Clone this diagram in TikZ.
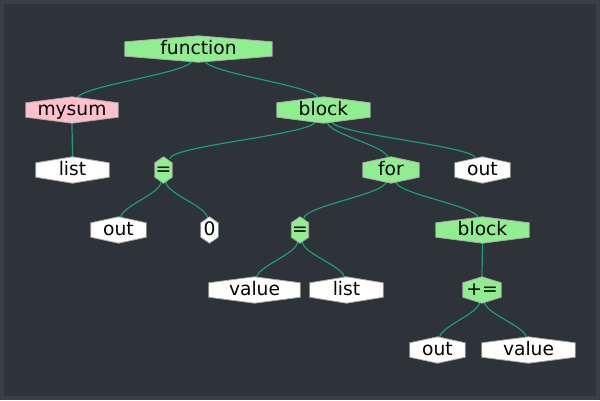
\documentclass[tikz,border=0pt]{standalone}
\usepackage{fontspec}
\setmainfont{DejaVu Sans}
\usetikzlibrary{backgrounds,calc}
\definecolor{bgouter}{HTML}{3A3E48}
\definecolor{bginner}{HTML}{2E3239}
\definecolor{edgecol}{HTML}{1A9E7A}
\definecolor{hexborder}{HTML}{A8A8A8}
\definecolor{hexgreen}{HTML}{90EE90}
\definecolor{hexpink}{HTML}{FFC0CB}
\newcommand\hexshape[2]{%
  \path[fill=#2, draw=hexborder, line width=0.8pt]
    (#1.north) -- ([yshift=-6pt]#1.north east) -- ([yshift=6pt]#1.south east)
    -- (#1.south) -- ([yshift=6pt]#1.south west) -- ([yshift=-6pt]#1.north west) -- cycle;}
\newcommand\treeedge[2]{%
  \draw[edgecol, line width=1.2pt]
    let \p1=(#1.south), \p2=(#2.north) in
    ({\x1+0.05*(\x2-\x1)},{\y1+2pt}) .. controls +(0,13) and +(0,-13) ..
    ({\x2-0.04*(\x2-\x1)},{\y2-2pt});}
\begin{document}
\begin{tikzpicture}[x=1pt,y=-1pt,
  hexnode/.style={inner sep=0pt, minimum height=26pt, text=black,
    text height=14pt, text depth=3pt,
    font=\fontsize{18.67}{20}\selectfont}]
\useasboundingbox (0,0) rectangle (600,400);
% nodes
\node[hexnode, minimum width=147pt] (function) at (198.5,49) {function};
\node[hexnode, minimum width=92pt] (mysum) at (72,110) {mysum};
\node[hexnode, minimum width=93pt] (block1) at (323.5,110) {block};
\node[hexnode, minimum width=73pt] (list1) at (72.5,170) {list};
\node[hexnode, minimum width=17pt] (eq1) at (163.5,170) {=};
\node[hexnode, minimum width=56pt] (nfor) at (391,170) {for};
\node[hexnode, minimum width=55pt] (outR) at (482.5,170) {out};
\node[hexnode, minimum width=55pt] (outL) at (118.5,230) {out};
\node[hexnode, minimum width=17pt] (zero) at (209.5,230) {0};
\node[hexnode, minimum width=17pt] (eq2) at (300,230) {=};
\node[hexnode, minimum width=93pt] (block2) at (482.5,230) {block};
\node[hexnode, minimum width=91pt] (value1) at (254.5,290) {value};
\node[hexnode, minimum width=73pt] (list2) at (346.5,290) {list};
\node[hexnode, minimum width=38pt] (pluseq) at (482,290) {+=};
\node[hexnode, minimum width=55pt] (out3) at (437.5,350) {out};
\node[hexnode, minimum width=93pt] (value2) at (528.5,350) {value};
\begin{scope}[on background layer]
  \fill[bgouter] (0,0) rectangle (600,400);
  \fill[bginner] (4,4) rectangle (596,396);
  \treeedge{function}{mysum}
  \treeedge{function}{block1}
  \treeedge{mysum}{list1}
  \treeedge{block1}{eq1}
  \treeedge{block1}{nfor}
  \treeedge{block1}{outR}
  \treeedge{eq1}{outL}
  \treeedge{eq1}{zero}
  \treeedge{nfor}{eq2}
  \treeedge{nfor}{block2}
  \treeedge{eq2}{value1}
  \treeedge{eq2}{list2}
  \treeedge{block2}{pluseq}
  \treeedge{pluseq}{out3}
  \treeedge{pluseq}{value2}
  \hexshape{function}{hexgreen}
  \hexshape{mysum}{hexpink}
  \hexshape{block1}{hexgreen}
  \hexshape{list1}{white}
  \hexshape{eq1}{hexgreen}
  \hexshape{nfor}{hexgreen}
  \hexshape{outR}{white}
  \hexshape{outL}{white}
  \hexshape{zero}{white}
  \hexshape{eq2}{hexgreen}
  \hexshape{block2}{hexgreen}
  \hexshape{value1}{white}
  \hexshape{list2}{white}
  \hexshape{pluseq}{hexgreen}
  \hexshape{out3}{white}
  \hexshape{value2}{white}
\end{scope}
\end{tikzpicture}
\end{document}
